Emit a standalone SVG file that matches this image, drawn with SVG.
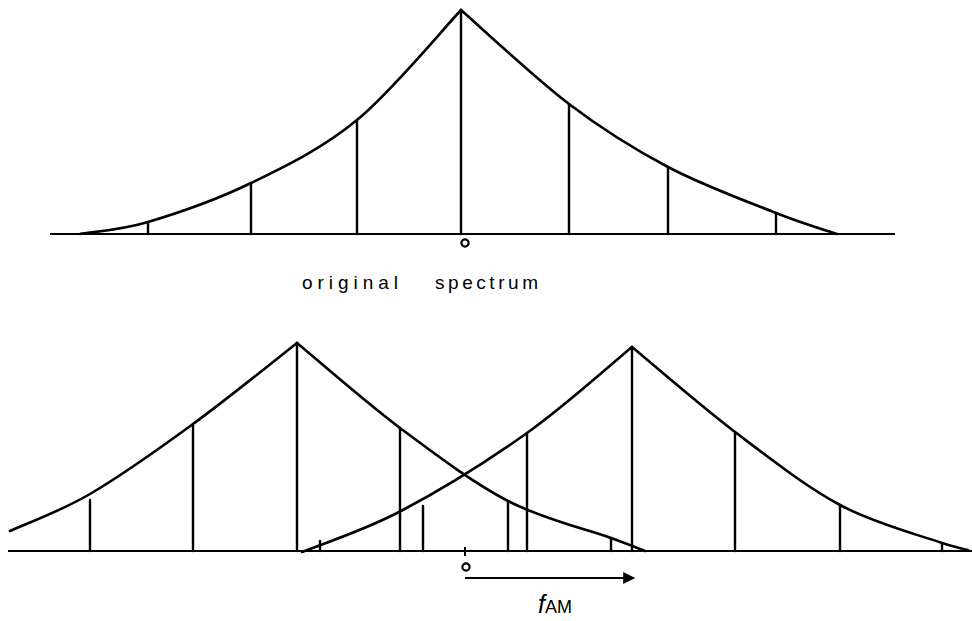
<svg xmlns="http://www.w3.org/2000/svg" width="972" height="621" viewBox="0 0 972 621">
<defs>
<style>
.ln{stroke:#000;stroke-width:2.4;fill:none;stroke-linecap:round;stroke-linejoin:round}
.ax{stroke:#000;stroke-width:2;fill:none}
.cv{stroke:#000;stroke-width:2.6;fill:none;stroke-linejoin:round;stroke-linecap:round}
.lbl{font-family:"Liberation Sans",Arial,sans-serif;fill:#000}
</style>
<marker id="ah" viewBox="0 0 10 10" refX="9" refY="5" markerWidth="7.5" markerHeight="6" orient="auto" markerUnits="strokeWidth">
<path d="M0,0 L10,5 L0,10 Z" fill="#000"/>
</marker>
</defs>
<rect width="972" height="621" fill="#fff"/>

<g id="original-spectrum">
<line class="ax" x1="50" y1="234" x2="895" y2="234"/>
<path class="cv" d="M80,234 C91.3,232 119.5,230.5 148,222 C176.5,213.5 216.2,200 251,183 C285.8,166 322,148.8 357,120 C392,91.2 443.7,28.3 461,10"/>
<path class="cv" d="M461,10 C479,25.7 534.5,77.8 569,104 C603.5,130.2 633.5,148.8 668,167 C702.5,185.2 747.8,201.8 776,213 C804.2,224.2 826.8,230.5 837,234"/>
<g class="ln">
<line x1="148" y1="222" x2="148" y2="234"/>
<line x1="251" y1="183" x2="251" y2="234"/>
<line x1="357" y1="120" x2="357" y2="234"/>
<line x1="461" y1="10" x2="461" y2="234"/>
<line x1="569" y1="104" x2="569" y2="234"/>
<line x1="668" y1="167" x2="668" y2="234"/>
<line x1="776" y1="213" x2="776" y2="234"/>
</g>
<circle cx="465" cy="243" r="3.6" fill="none" stroke="#000" stroke-width="2.2"/>
<text class="lbl" font-size="19"><tspan x="302" y="289" textLength="96" lengthAdjust="spacing">original</tspan><tspan x="435" y="289" textLength="103" lengthAdjust="spacing">spectrum</tspan></text>
</g>

<g id="shifted-spectrum">
<line class="ax" x1="8" y1="551" x2="972" y2="551"/>
<line class="ax" x1="465" y1="547" x2="465" y2="556"/>
<path class="cv" d="M10,531 C23.3,524.8 59.5,511.8 90,494 C120.5,476.2 158.5,449.2 193,424 C227.5,398.8 279.7,356.5 297,343"/>
<path class="cv" d="M297,343 C314.2,357.2 364.8,401.7 400,428 C435.2,454.3 472.8,482.7 508,501 C543.2,519.3 588.2,529.7 611,538 C633.8,546.3 639.3,548.8 645,551"/>
<path class="cv" d="M302,552 C318.5,545.2 363.5,530.8 401,511 C438.5,491.2 488.5,460.3 527,433 C565.5,405.7 614.5,361.3 632,347"/>
<path class="cv" d="M632,347 C649.2,361.2 700.3,405.7 735,432 C769.7,458.3 805.5,486.5 840,505 C874.5,523.5 920.7,535.5 942,543 C952,546 962,549 968,550"/>
<g class="ln">
<line x1="90" y1="500" x2="90" y2="551"/>
<line x1="193" y1="424" x2="193" y2="551"/>
<line x1="297" y1="343" x2="297" y2="551"/>
<line x1="320" y1="541" x2="320" y2="551"/>
<line x1="400" y1="428" x2="400" y2="551"/>
<line x1="423" y1="506" x2="423" y2="551"/>
<line x1="508" y1="502" x2="508" y2="551"/>
<line x1="527" y1="433" x2="527" y2="551"/>
<line x1="611" y1="538" x2="611" y2="551"/>
<line x1="632" y1="347" x2="632" y2="551"/>
<line x1="735" y1="432" x2="735" y2="551"/>
<line x1="840" y1="505" x2="840" y2="551"/>
<line x1="942" y1="543" x2="942" y2="551"/>
</g>
<circle cx="466" cy="567" r="3.6" fill="none" stroke="#000" stroke-width="2.2"/>
</g>

<g id="connectors">
<line x1="465" y1="578" x2="634" y2="578" stroke="#000" stroke-width="2" marker-end="url(#ah)"/>
<text class="lbl" x="538" y="613" font-size="25" font-style="italic">f<tspan font-size="18" font-style="normal">AM</tspan></text>
</g>
</svg>
